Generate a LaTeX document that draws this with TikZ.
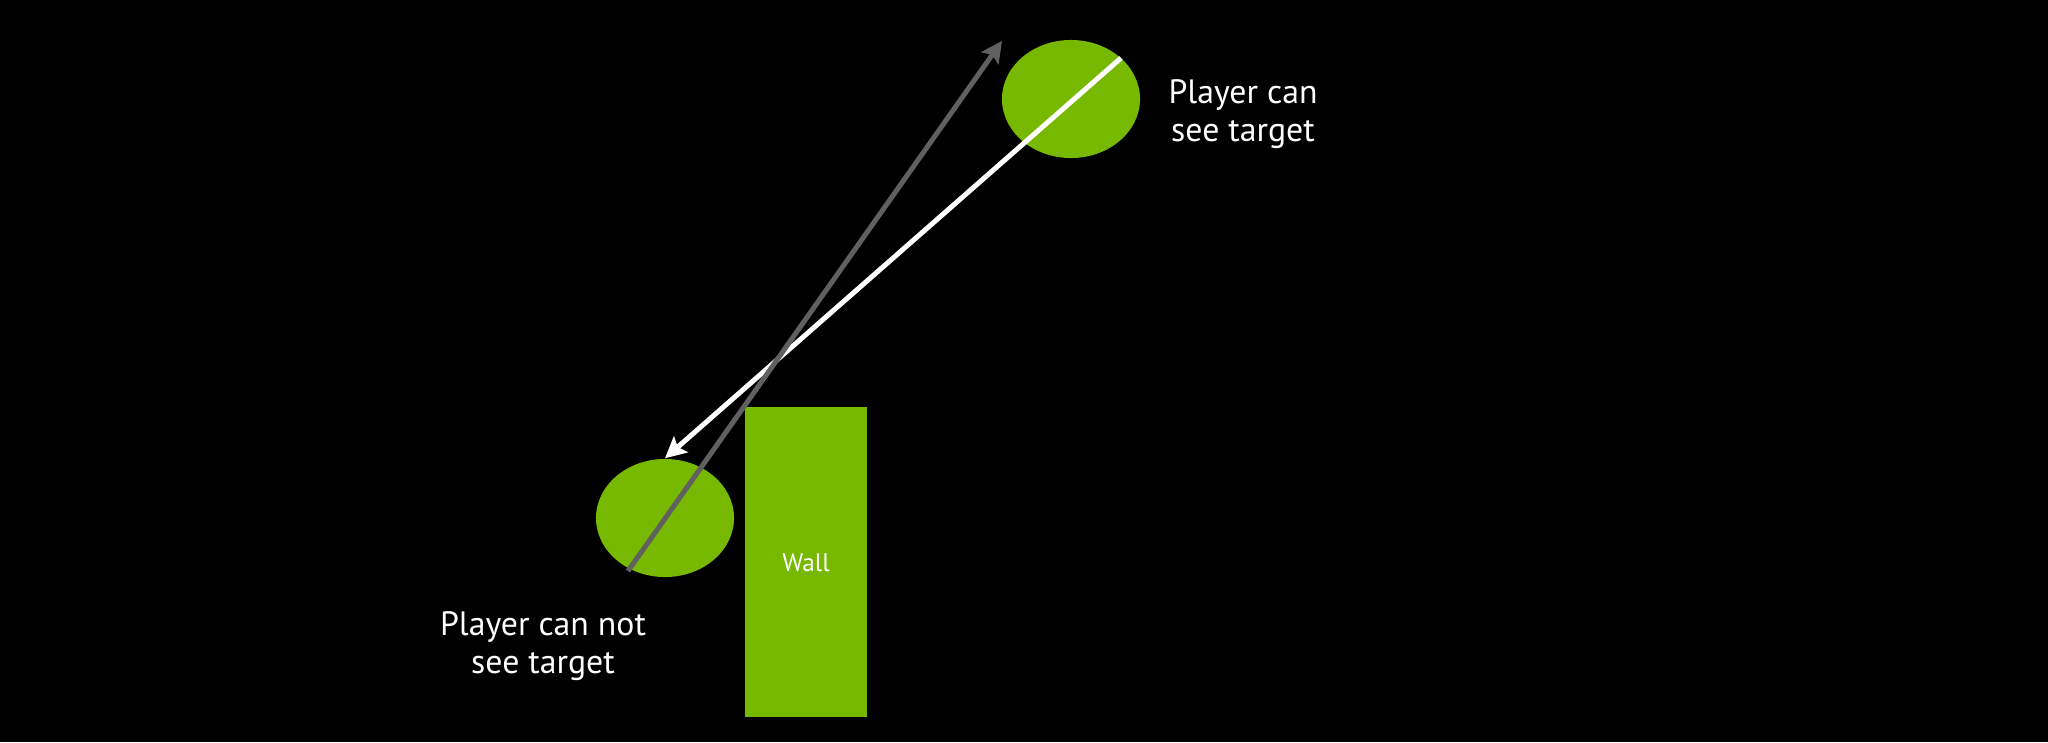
\documentclass[tikz,border=0pt]{standalone}
\usepackage{fontspec}
\setmainfont{PT Sans}
\usetikzlibrary{arrows.meta,shapes.geometric}
\definecolor{nvgreen}{HTML}{76B900}
\definecolor{raygray}{HTML}{606060}
\begin{document}
\begin{tikzpicture}[x=0.01cm, y=-0.01cm,
  blob/.style={ellipse, fill=nvgreen, minimum width=1.38cm, minimum height=1.18cm, inner sep=0pt},
  caption/.style={text=white, align=center, font=\fontsize{9.6}{10.6}\selectfont},
  ray/.style={line width=1.42pt, -{Stealth[length=6pt, width=6pt, inset=1.2pt]}}]
% Background and canvas size
\fill[black] (0, 0) rectangle (2048, 742);

% The two players and the wall
\node[blob] (target) at (1071, 99) {};
\node[blob] (player) at (665, 518) {};
\node[rectangle, fill=nvgreen, minimum width=1.21cm, minimum height=3.10cm, inner sep=0pt] (wall) at (806, 562) {};
\node[text=white, font=\fontsize{7.2}{8}\selectfont] (walltext) at (806, 563) {Wall};

% Labels
\node[caption] (seeok) at (1243, 114) {Player can\\see target};
\node[caption] (seeno) at (543, 646) {Player can not\\see target};

% Rays
\coordinate (rayend) at (1121, 58);
\coordinate (raystart) at (628, 571);
\coordinate (raytip) at (1002, 41);
\draw[ray, white] (rayend) -- (player.north);
\draw[ray, raygray] (raystart) -- (raytip);
\end{tikzpicture}
\end{document}
